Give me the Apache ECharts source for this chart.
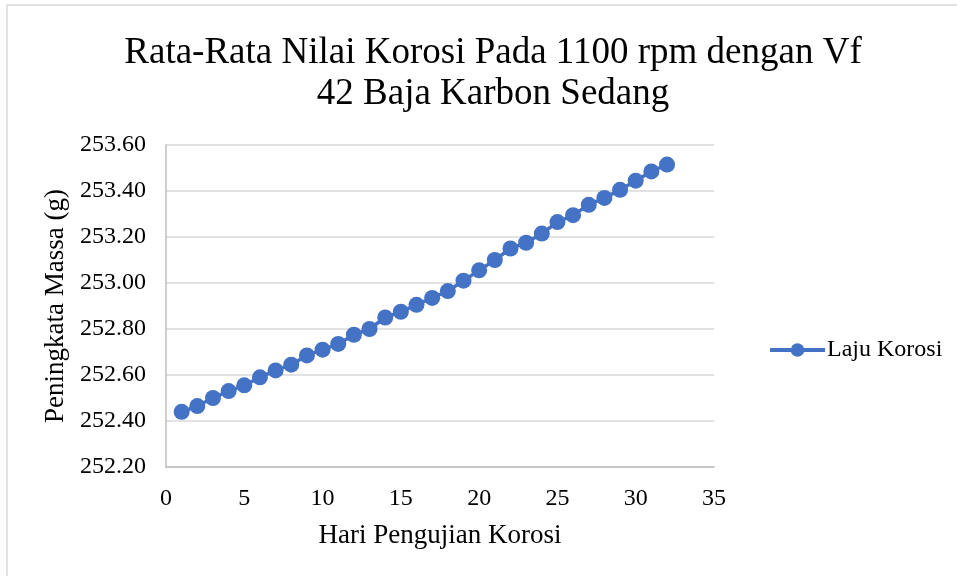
<!DOCTYPE html>
<html>
<head>
<meta charset="utf-8">
<script src="https://cdn.jsdelivr.net/npm/echarts@6/dist/echarts.min.js"></script>
<style>html,body{margin:0;padding:0;background:#fff;}#c{width:957px;height:576px;}</style>
</head>
<body>
<div id="c"></div>
<script>
const titleText = 'Rata-Rata Nilai Korosi Pada 1100 rpm dengan Vf\n42 Baja Karbon Sedang';
const xName = 'Hari Pengujian Korosi';
const yName = 'Peningkata Massa (g)';
const seriesName = 'Laju Korosi';
const days = [1,2,3,4,5,6,7,8,9,10,11,12,13,14,15,16,17,18,19,20,21,22,23,24,25,26,27,28,29,30,31,32];
const mass = [252.44,252.465,252.50,252.53,252.555,252.59,252.62,252.645,252.685,252.71,252.735,252.775,252.80,252.85,252.875,252.905,252.935,252.965,253.01,253.055,253.10,253.15,253.175,253.215,253.265,253.295,253.34,253.37,253.405,253.445,253.485,253.515];

const font = 'Liberation Serif';
const chart = echarts.init(document.getElementById('c'), null, {renderer:'canvas'});
chart.setOption({
  animation: false,
  backgroundColor: '#fff',
  textStyle: {fontFamily: font},
  graphic: [{type:'rect', shape:{x:7, y:5, width:1000, height:600}, style:{fill:'none', stroke:'#d9d9d9', lineWidth:1.5}, silent:true}],
  title: {
    text: titleText, left: 488, top: 28, textAlign: 'center',
    textStyle: {fontFamily: font, fontSize: 37, fontWeight: 'normal', color: '#000', lineHeight: 41}
  },
  legend: {
    data: [seriesName], left: 768, top: 338, padding: 0, itemWidth: 55, itemHeight: 17, itemGap: 4,
    lineStyle: {width: 4, color: '#4472c4'},
    textStyle: {fontFamily: font, fontSize: 24, color: '#000', padding: [0,0,0,-3]}
  },
  grid: {left: 166, top: 145, right: 243, bottom: 109, containLabel: false},
  xAxis: {
    type: 'value', min: 0, max: 35, interval: 5,
    name: xName, nameLocation: 'middle', nameGap: 55,
    nameTextStyle: {fontFamily: font, fontSize: 27, color: '#000'},
    axisLine: {show: true, lineStyle: {color: '#bfbfbf', width: 1.5}},
    axisTick: {show: false},
    splitLine: {show: false},
    axisLabel: {fontFamily: font, fontSize: 24, color: '#000', margin: 20}
  },
  yAxis: {
    type: 'value', min: 252.2, max: 253.6, interval: 0.2,
    name: yName, nameLocation: 'middle', nameGap: 92,
    nameTextStyle: {fontFamily: font, fontSize: 27, color: '#000'},
    axisLine: {show: true, lineStyle: {color: '#bfbfbf', width: 1.5}},
    axisTick: {show: false},
    splitLine: {show: true, lineStyle: {color: '#d9d9d9', width: 1.5}},
    axisLabel: {fontFamily: font, fontSize: 24, color: '#000', margin: 20, formatter: v => v.toFixed(2)}
  },
  series: [{
    name: seriesName, type: 'line',
    data: days.map((d, i) => [d, mass[i]]),
    symbol: 'circle', symbolSize: 16,
    lineStyle: {color: '#4472c4', width: 3.5},
    itemStyle: {color: '#4472c4'}
  }]
});
</script>
</body>
</html>
